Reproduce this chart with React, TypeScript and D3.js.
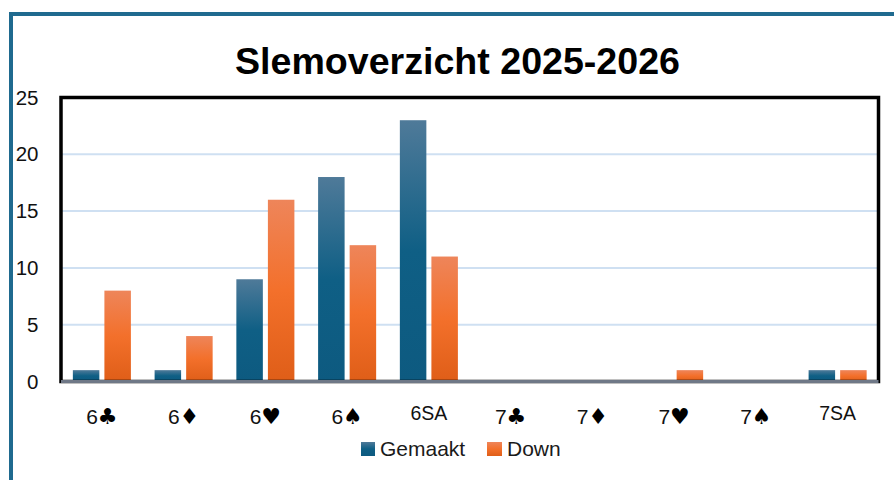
import React from "react";
import * as d3 from "d3";

const categories = ["6♣", "6♦", "6♥", "6♠", "6SA", "7♣", "7♦", "7♥", "7♠", "7SA"];
const gemaakt = [1, 1, 9, 18, 23, 0, 0, 0, 0, 1];
const down = [8, 4, 16, 12, 11, 0, 0, 1, 0, 1];
const seriesNames = ["Gemaakt", "Down"];
const yTicks = [0, 5, 10, 15, 20, 25];
const titleText = "Slemoverzicht 2025-2026";

const W = 894, H = 480;
const plot = { l: 61, r: 878.5, t: 97.5, b: 381.5 };
const font = "'Liberation Sans', Arial, sans-serif";

export default function App() {
  const x0 = d3.scaleBand<string>().domain(categories).range([plot.l, plot.r]).paddingInner(0.29).paddingOuter(0.145);
  const x1 = d3.scaleBand<string>().domain(seriesNames).range([0, x0.bandwidth()]).paddingInner(0.16);
  const y = d3.scaleLinear().domain([0, 25]).range([plot.b, plot.t]);
  const series = [gemaakt, down];
  const fills = ["url(#gBlue)", "url(#gOrange)"];

  return (
    <svg width={W} height={H} viewBox={`0 0 ${W} ${H}`} style={{ position: "fixed", left: 0, top: 0, display: "block", background: "#fff" }}>
      <defs>
        <linearGradient id="gBlue" x1="0" y1="0" x2="0" y2="1">
          <stop offset="0" stopColor="#4f7a99" />
          <stop offset="0.5" stopColor="#0f5f85" />
          <stop offset="1" stopColor="#0d5a80" />
        </linearGradient>
        <linearGradient id="gOrange" x1="0" y1="0" x2="0" y2="1">
          <stop offset="0" stopColor="#ee855a" />
          <stop offset="0.5" stopColor="#f3702b" />
          <stop offset="1" stopColor="#df5e18" />
        </linearGradient>
      </defs>
      <path d={`M11 ${H} V14 H${W}`} fill="none" stroke="#1f6a8f" strokeWidth={4} />
      <text x={457.5} y={74} textAnchor="middle" fontFamily={font} fontWeight={700} fontSize={37.6} fill="#000">{titleText}</text>

      {yTicks.filter((t) => t > 0 && t < 25).map((t) => (
        <line key={t} x1={plot.l} x2={plot.r} y1={y(t)} y2={y(t)} stroke="#cfe0f2" strokeWidth={2} />
      ))}
      {yTicks.map((t) => (
        <text key={t} x={38.5} y={y(t) + 7} textAnchor="end" fontFamily={font} fontSize={20.5} fill="#111">{t}</text>
      ))}

      {categories.map((c, i) =>
        series.map((vals, s) =>
          vals[i] > 0 ? (
            <rect key={c + s} x={x0(c)! + x1(seriesNames[s])!} y={y(vals[i])} width={x1.bandwidth()} height={plot.b - y(vals[i])} fill={fills[s]} />
          ) : null
        )
      )}

      <rect x={plot.l} y={plot.t} width={plot.r - plot.l} height={plot.b - plot.t} fill="none" stroke="#000" strokeWidth={3.5} />
      <line x1={plot.l} x2={plot.r} y1={plot.b} y2={plot.b} stroke="#6f7887" strokeWidth={3} />

      {categories.map((c) => {
        const sa = c.endsWith("SA");
        const digit = c[0];
        const rest = c.slice(1);
        const cx = x0(c)! + x0.bandwidth() / 2;
        return sa ? (
          <text key={c} x={cx} y={420} textAnchor="middle" fontFamily={font} fontSize={19.5} fill="#111">{c}</text>
        ) : (
          <text key={c} x={cx} y={424} textAnchor="middle" fontFamily={font} fontSize={21} fill="#111">
            {digit}<tspan fontFamily="'DejaVu Sans'" fontSize={22} fill="#000">{rest}</tspan>
          </text>
        );
      })}

      <g fontFamily={font} fontSize={21} fill="#1a1a1a">
        <rect x={361} y={442} width={14} height={14} fill="url(#gBlue)" />
        <text x={380} y={456}>{seriesNames[0]}</text>
        <rect x={487} y={442} width={15} height={14} fill="url(#gOrange)" />
        <text x={507} y={456}>{seriesNames[1]}</text>
      </g>
    </svg>
  );
}
